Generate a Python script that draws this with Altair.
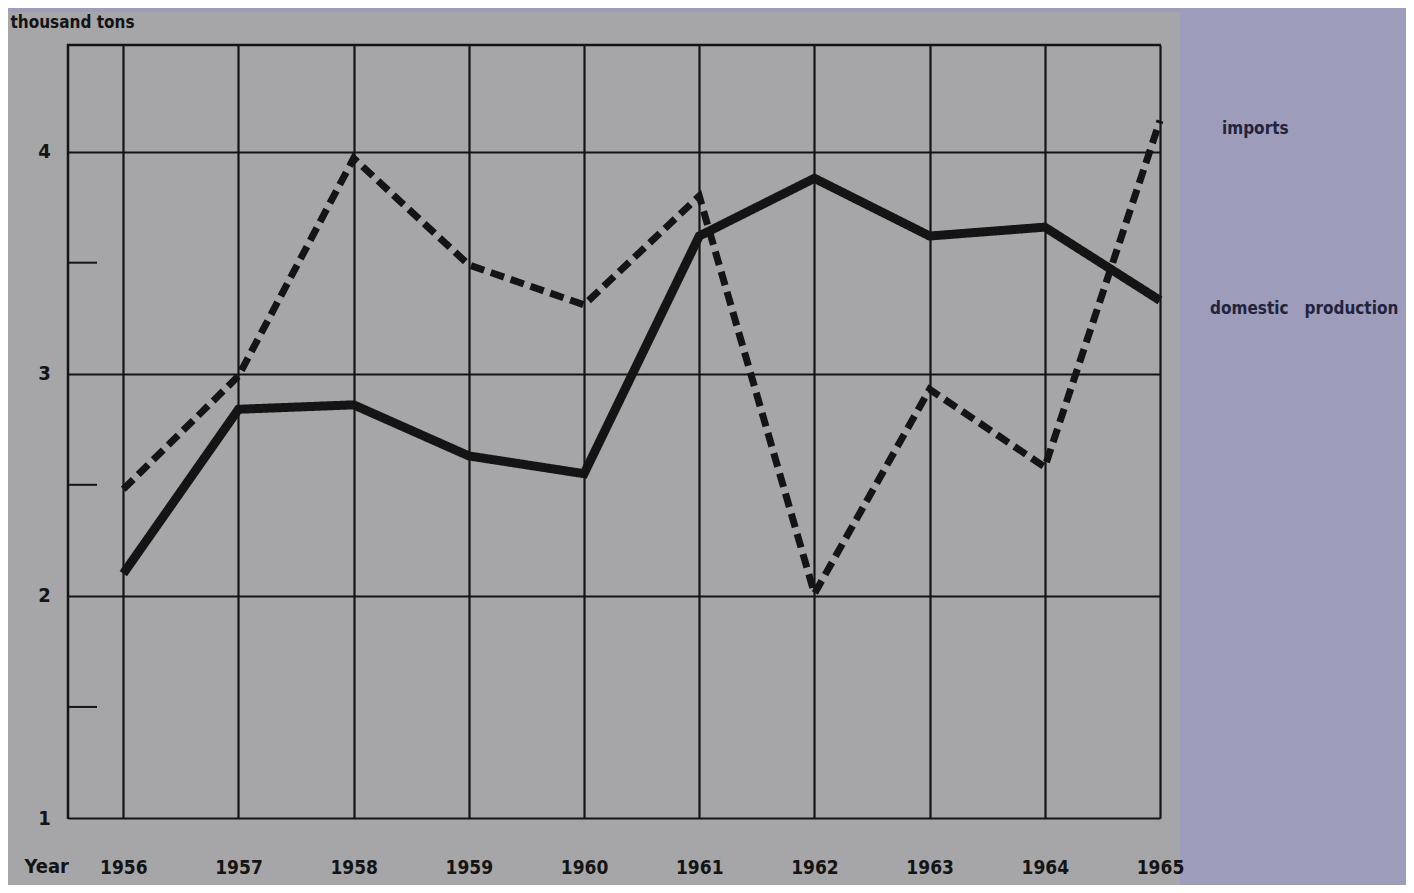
import altair as alt
import pandas as pd

years = [1956, 1957, 1958, 1959, 1960, 1961, 1962, 1963, 1964, 1965]
imports = [2.48, 2.99, 3.97, 3.49, 3.31, 3.80, 2.01, 2.93, 2.58, 4.14]
domestic = [2.10, 2.84, 2.86, 2.63, 2.55, 3.62, 3.88, 3.62, 3.66, 3.33]
series_names = ["imports", "domestic production"]
series_labels = ["imports", "domestic\u00a0\u00a0\u00a0production"]
y_ticks = [1, 2, 3, 4]
minor_ticks = [1.5, 2.5, 3.5]

df = pd.DataFrame(
    {
        "year": years * 2,
        "value": imports + domestic,
        "series": [series_names[0]] * len(years) + [series_names[1]] * len(years),
        "label": [series_labels[0]] * len(years) + [series_labels[1]] * len(years),
    }
)

FONT = "DejaVu Sans Condensed, Liberation Sans Narrow, DejaVu Sans, sans-serif"
INK = "#141414"
PAPER = "#a6a6a8"
LAVENDER = "#9d9cba"

W, H = 1092, 773
xscale = alt.Scale(domain=[1955.52, 1965], nice=False, zero=False)
yscale = alt.Scale(domain=[1, 4.48], nice=False, zero=False)

one = pd.DataFrame({"a": [0]})
paper = alt.Chart(one).mark_rect(color=PAPER).encode(
    x=alt.value(-60), x2=alt.value(1112), y=alt.value(-33), y2=alt.value(840)
)
top_border = alt.Chart(one).mark_rule(color=INK, strokeWidth=2.5).encode(
    x=alt.value(-1), x2=alt.value(W + 1), y=alt.value(0)
)
left_border = alt.Chart(one).mark_rule(color=INK, strokeWidth=2.5).encode(
    x=alt.value(0), y=alt.value(-1), y2=alt.value(H + 1)
)

lines = alt.Chart(df).mark_line(color=INK, strokeCap="butt", strokeJoin="miter").encode(
    x=alt.X(
        "year:Q",
        scale=xscale,
        axis=alt.Axis(
            values=years,
            format="d",
            grid=True,
            gridColor=INK,
            gridWidth=2.2,
            gridOpacity=1,
            domain=False,
            ticks=False,
            labelFlush=False,
            labelOverlap=False,
            labelPadding=40,
            labelFont=FONT,
            labelFontSize=19,
            labelFontWeight="bold",
            labelColor=INK,
            title="Year",
            titleFont=FONT,
            titleFontSize=20,
            titleFontWeight="bold",
            titleColor=INK,
            titleAnchor="start",
            titleAlign="left",
            titleBaseline="middle",
            titleX=-44,
            titleY=48,
            zindex=1,
        ),
    ),
    y=alt.Y(
        "value:Q",
        scale=yscale,
        axis=alt.Axis(
            values=y_ticks,
            format="d",
            grid=True,
            gridColor=INK,
            gridWidth=2.2,
            gridOpacity=1,
            domain=False,
            ticks=False,
            labelFlush=False,
            labelPadding=24,
            labelAlign="center",
            labelFont=FONT,
            labelFontSize=20,
            labelFontWeight="bold",
            labelColor=INK,
            title="thousand tons",
            titleAngle=0,
            titleFont=FONT,
            titleFontSize=17,
            titleFontWeight="bold",
            titleColor=INK,
            titleAlign="left",
            titleBaseline="middle",
            titleX=-58,
            titleY=-23,
            zindex=1,
        ),
    ),
    strokeDash=alt.StrokeDash(
        "series:N",
        scale=alt.Scale(domain=series_names, range=[[14, 7], [1, 0]]),
        legend=None,
    ),
    strokeWidth=alt.StrokeWidth(
        "series:N",
        scale=alt.Scale(domain=series_names, range=[7, 9]),
        legend=None,
    ),
    detail="series:N",
)

minor = alt.Chart(pd.DataFrame({"v": minor_ticks})).mark_rule(color=INK, strokeWidth=2).encode(
    y=alt.Y("v:Q", scale=yscale), x=alt.value(0), x2=alt.value(29)
)

last = df[df["year"] == 1965]
lab_imp = alt.Chart(last[last["series"] == "imports"]).mark_text(
    align="left", baseline="middle", dx=62, dy=8, font=FONT, fontSize=17,
    fontWeight="bold", color="#23233d"
).encode(x=alt.X("year:Q", scale=xscale), y=alt.Y("value:Q", scale=yscale), text="label:N")

lab_dom = alt.Chart(last[last["series"] == "domestic production"]).mark_text(
    align="left", baseline="middle", dx=50, dy=9, font=FONT, fontSize=17,
    fontWeight="bold", color="#23233d"
).encode(x=alt.X("year:Q", scale=xscale), y=alt.Y("value:Q", scale=yscale), text="label:N")

chart = (
    alt.layer(paper, top_border, left_border, minor, lines, lab_imp, lab_dom)
    .properties(
        width=W,
        height=H,
        background=LAVENDER,
        autosize=alt.AutoSizeParams(type="none"),
        padding={"left": 60, "top": 37, "right": 246, "bottom": 67},
    )
    .configure_view(stroke=INK, strokeWidth=2.5)
)

chart.save("out.html", embed_options={"renderer": "svg", "actions": False})
